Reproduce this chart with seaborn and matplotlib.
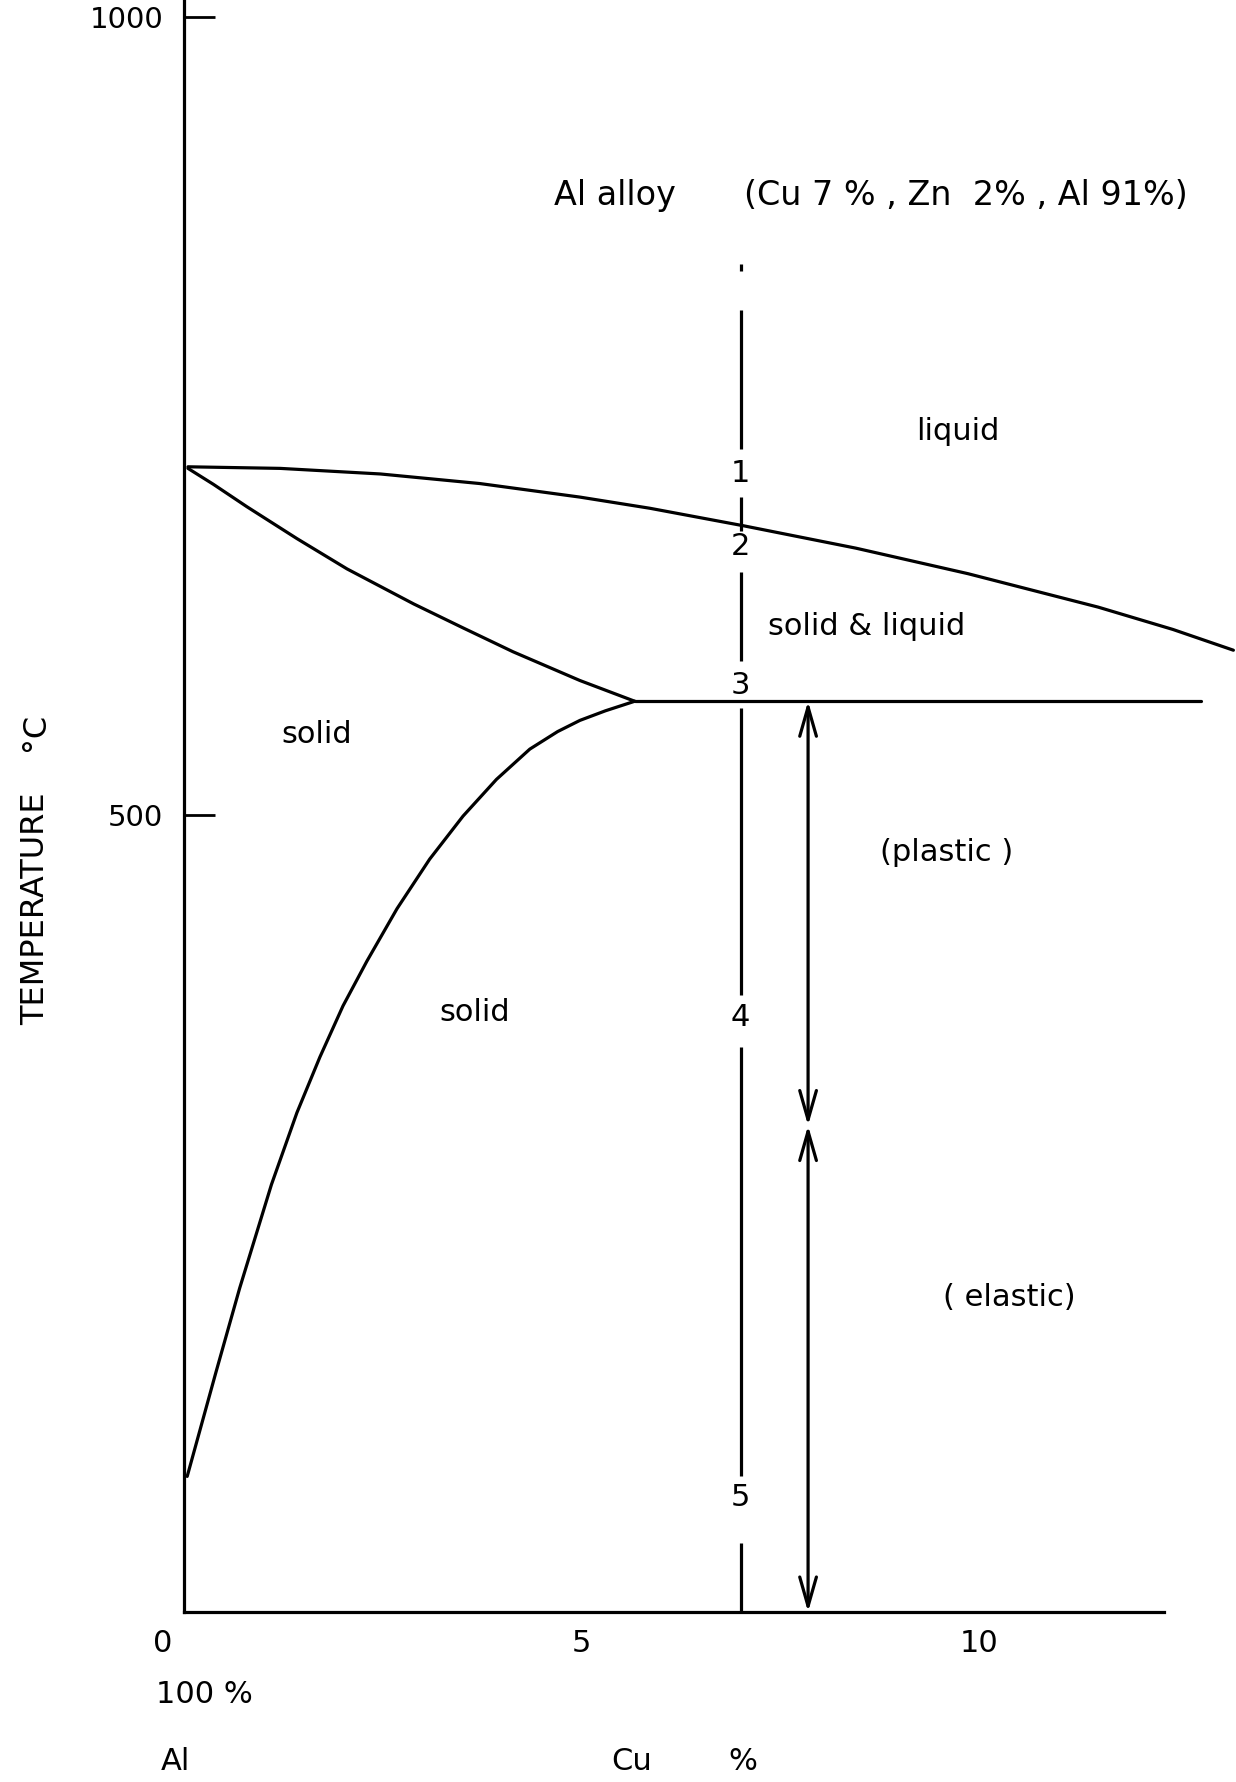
import matplotlib
matplotlib.use("Agg")
import matplotlib.pyplot as plt
import matplotlib.transforms as mtransforms
import pandas as pd
import seaborn as sns

# Phase boundaries of the Al-rich side (Cu wt%, temperature in deg C)
liquidus_cu = [0.05, 1.21, 2.47, 3.72, 4.98, 5.86, 7.04, 8.45, 9.86, 11.50, 12.44, 13.20]
liquidus_t = [718, 717, 713.5, 707.5, 699, 692, 681, 667, 651, 630, 616, 603]

solidus_cu = [0.05, 0.37, 0.79, 1.42, 2.05, 2.89, 3.51, 4.14, 4.98, 5.67]
solidus_t = [717, 707, 693, 673, 654, 632, 617, 602, 584, 571]

solvus_cu = [0.04, 0.40, 0.70, 1.10, 1.42, 1.71, 2.00, 2.30, 2.68, 3.09, 3.51, 3.93, 4.35, 4.70, 4.98, 5.30, 5.67]
solvus_t = [85, 150, 203, 268, 313, 348, 380, 408, 441, 472, 499, 522, 541, 552, 559, 565, 571]

eutectic_cu = [5.67, 12.79]
eutectic_t = [571, 571]

# Alloy section at 7 % Cu: drawn pieces between the numbered points
alloy_cu = 7.0
alloy_seg_top = [845, 816, 699, 652, 567, 354, 43]
alloy_seg_bottom = [841, 729, 678, 596, 387, 85, 0]
point_labels = ["1", "2", "3", "4", "5"]
point_t = [714, 668, 581, 373, 72]

# Plastic / elastic ranges of the alloy
range_cu = 7.85
plastic_range = [571, 305]
elastic_range = [305, 0]

region_names = ["liquid", "solid & liquid", "solid", "solid", "(plastic )", "( elastic)"]
region_cu = [9.73, 8.59, 1.67, 3.66, 9.59, 10.38]
region_t = [740, 618, 550, 376, 476, 197]

x_ticks = [0, 5, 10]
x_tick_labels = ["0", "5", "10"]
y_ticks = [500, 1000]
y_tick_labels = ["500", "1000"]

sns.set_theme(style="white")
plt.rcParams["font.family"] = ["DejaVu Sans"]
plt.rcParams["text.color"] = "black"
plt.rcParams["xtick.color"] = "black"
plt.rcParams["ytick.color"] = "black"
plt.rcParams["axes.labelcolor"] = "black"

W, H = 1236, 1782
fig = plt.figure(figsize=(W / 100, H / 100), dpi=100)
fig.patch.set_facecolor("white")

x0_px, y0_px = 184, 1612
px_per_cu = 79.5
px_per_deg = 1.595
ax = fig.add_axes([x0_px / W, (H - y0_px) / H, 1 - x0_px / W, y0_px / H])
ax.set_facecolor("white")
ax.set_xlim(0, (W - x0_px) / px_per_cu)
ax.set_ylim(0, y0_px / px_per_deg)

lw = 2.3
curves = [
    (liquidus_cu, liquidus_t),
    (solidus_cu, solidus_t),
    (solvus_cu, solvus_t),
    (eutectic_cu, eutectic_t),
]
for cu, t in curves:
    df = pd.DataFrame({"Cu": cu, "T": t})
    sns.lineplot(data=df, x="Cu", y="T", ax=ax, color="black", lw=lw,
                 sort=False, estimator=None)

ax.vlines([alloy_cu] * len(alloy_seg_top), alloy_seg_bottom, alloy_seg_top,
          colors="black", lw=lw)

for lab, t in zip(point_labels, point_t):
    ax.text(alloy_cu, t, lab, ha="center", va="center", fontsize=22, color="black")

arrow_style = "<->,head_length=1.05,head_width=0.3"
for top, bottom in (plastic_range, elastic_range):
    ax.annotate("", xy=(range_cu, top), xytext=(range_cu, bottom),
                arrowprops=dict(arrowstyle=arrow_style, color="black", lw=lw,
                                shrinkA=0, shrinkB=0, mutation_scale=20))

for name, cu, t in zip(region_names, region_cu, region_t):
    ax.text(cu, t, name, ha="center", va="center", fontsize=22, color="black")

ax.text(5.42, 888, "Al alloy", ha="center", va="center", fontsize=24, color="black")
ax.text(9.83, 888, "(Cu 7 % , Zn  2% , Al 91%)", ha="center", va="center",
        fontsize=24, color="black")

# Axis frame
for side in ("top", "right"):
    ax.spines[side].set_visible(False)
for side in ("left", "bottom"):
    ax.spines[side].set_color("black")
    ax.spines[side].set_linewidth(lw)
ax.spines["bottom"].set_bounds(0, 12.33)

ax.set_yticks(y_ticks)
ax.set_yticklabels(y_tick_labels)
ax.tick_params(axis="y", direction="in", length=22, width=2, pad=15,
               labelsize=21, colors="black", left=True)
ax.set_xticks(x_ticks)
ax.set_xticklabels(x_tick_labels)
ax.tick_params(axis="x", length=0, pad=12, labelsize=22, colors="black")
shift = mtransforms.ScaledTranslation(-21.5 / 100, 0, fig.dpi_scale_trans)
first = ax.get_xticklabels()[0]
first.set_transform(first.get_transform() + shift)
ax.set_xlabel("")
ax.set_ylabel("")
ax.grid(False)

# Axis captions
ax.text(-1.87, 441, "TEMPERATURE", rotation=90, ha="center", va="center",
        fontsize=23, clip_on=False, color="black")
ax.text(-1.87, 552, "°C", rotation=90, ha="center", va="center",
        fontsize=23, clip_on=False, color="black")
ax.text(0.25, -52, "100 %", ha="center", va="center", fontsize=22, clip_on=False, color="black")
ax.text(-0.11, -94, "Al", ha="center", va="center", fontsize=22, clip_on=False, color="black")
ax.text(5.63, -94, "Cu", ha="center", va="center", fontsize=22, clip_on=False, color="black")
ax.text(7.03, -94, "%", ha="center", va="center", fontsize=22, clip_on=False, color="black")

fig.savefig("out.png", dpi=100, facecolor="white")
